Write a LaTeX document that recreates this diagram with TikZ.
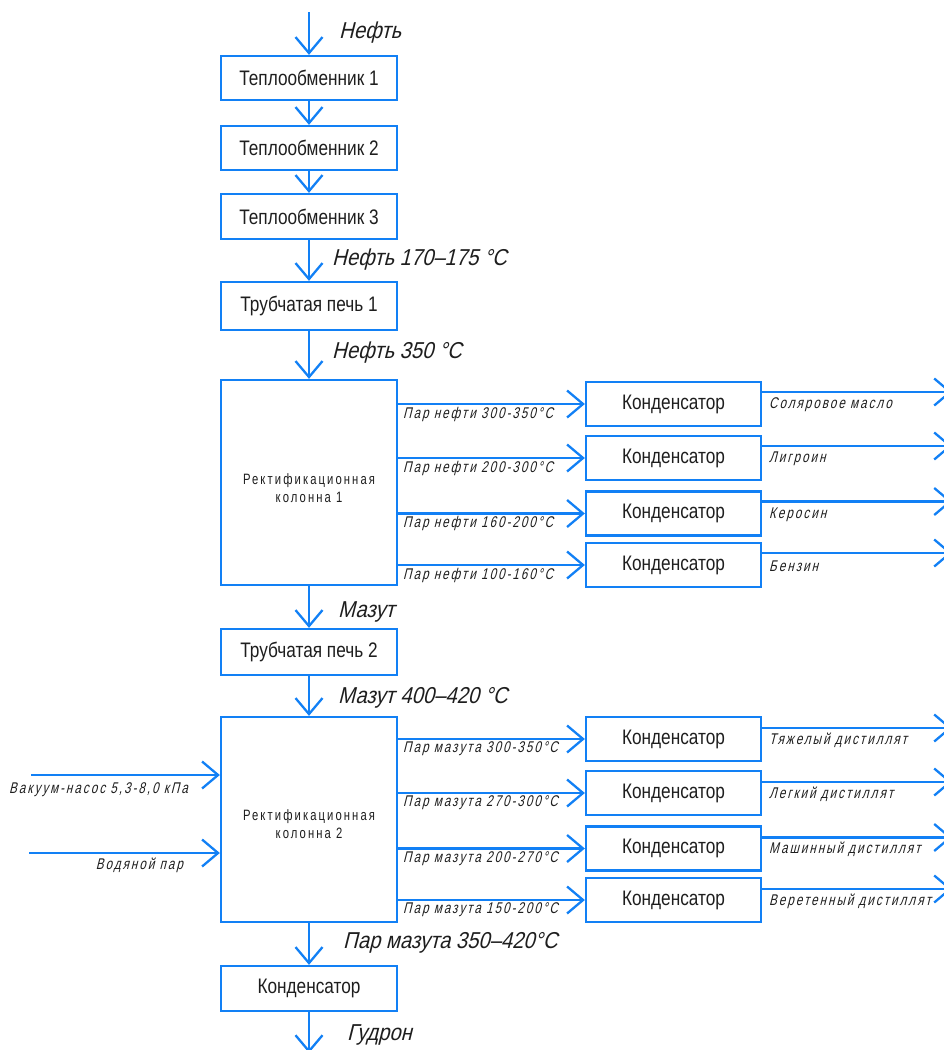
\documentclass[tikz,border=0pt]{standalone}
\usepackage{fontspec}
\setmainfont{Liberation Sans}
\usetikzlibrary{arrows.meta}
\newfontfamily\boxfont[FakeStretch=0.82]{Liberation Sans}
\newfontfamily\itfont[FakeStretch=0.88,FakeSlant=0.25]{Liberation Sans}
\newfontfamily\smallit[FakeStretch=0.75,FakeSlant=0.25,LetterSpace=13]{Liberation Sans}
\newfontfamily\smallup[FakeStretch=0.75,LetterSpace=14]{Liberation Sans}
\definecolor{lineblue}{RGB}{18,128,245}
\definecolor{txt}{RGB}{30,30,30}
\begin{document}
\begin{tikzpicture}[x=1pt,y=-1pt,
  box/.style={draw=lineblue,line width=2.3pt,fill=white,text=txt,inner sep=0pt,
    minimum width=176pt,font=\boxfont\fontsize{21}{24}\selectfont},
  cbox/.style={box,minimum width=175pt,minimum height=44pt},
  col/.style={box,minimum height=205pt},
  coltext/.style={text=txt,inner sep=0pt,align=center,font=\smallup\fontsize{15}{18}\selectfont},
  flow/.style={draw=lineblue,line width=2.3pt,-{Straight Barb[length=16pt,width=27pt,line width=2.3pt]}},
  biglab/.style={anchor=west,text=txt,inner sep=0pt,font=\itfont\fontsize{23}{26}\selectfont},
  smlab/.style={anchor=west,text=txt,inner sep=0pt,font=\smallit\fontsize{15.5}{17}\selectfont},
  smlabr/.style={smlab,anchor=east}]
\useasboundingbox (0,0) rectangle (944,1050);

% main chain
\coordinate (in) at (309,12);
\node[box,minimum height=44pt] (t1) at (309,78) {Теплообменник 1};
\node[box,minimum height=44pt] (t2) at (309,148) {Теплообменник 2};
\node[box,minimum height=45pt] (t3) at (309,216.5) {Теплообменник 3};
\node[box,minimum height=48pt] (p1) at (309,306) {Трубчатая печь 1};
\node[col] (k1) at (309,482.5) {};
\node[coltext] (k1t) at ([yshift=-6pt]k1.center) {Ректификационная\\колонна 1};
\node[box,minimum height=46pt] (p2) at (309,652) {Трубчатая печь 2};
\node[col] (k2) at (309,819.5) {};
\node[coltext] (k2t) at ([yshift=-5pt]k2.center) {Ректификационная\\колонна 2};
\node[box,minimum height=45pt] (cb) at (309,988.5) {Конденсатор};
\coordinate (out) at (309,1053);

\draw[flow] (in) -- (t1);
\draw[flow] (t1) -- (t2);
\draw[flow] (t2) -- (t3);
\draw[flow] (t3) -- (p1);
\draw[flow] (p1) -- (k1);
\draw[flow] (k1) -- (p2);
\draw[flow] (p2) -- (k2);
\draw[flow] (k2) -- (cb);
\draw[flow] (cb) -- (out);

\node[biglab] (l1) at (339,33) {Нефть};
\node[biglab] (l2) at (332,260) {Нефть 170–175 °С};
\node[biglab] (l3) at (332,353) {Нефть 350 °С};
\node[biglab] (l4) at (338,612) {Мазут};
\node[biglab] (l5) at (338,698) {Мазут 400–420 °С};
\node[biglab] (l6) at (343,943) {Пар мазута 350–420°С};
\node[biglab] (l7) at (347,1035) {Гудрон};

% column 1 condensers
\foreach \i/\y/\inl/\outl in {1/404/Пар нефти 300-350°С/Соляровое масло,
                           2/458/Пар нефти 200-300°С/Лигроин,
                           3/513.5/Пар нефти 160-200°С/Керосин,
                           4/565/Пар нефти 100-160°С/Бензин}{
  \node[cbox] (ca\i) at (673.5,\y) {Конденсатор};
  \draw[flow] (k1.east |- ca\i.west) -- (ca\i.west);
  \node[smlab] (ia\i) at (403,\y+10) {\inl};
  \coordinate (oa\i) at (952,\y-12);
  \draw[flow] (ca\i.east |- oa\i) -- (oa\i);
  \node[smlab] (ra\i) at (769,\y+1) {\outl};
}

% column 2 condensers
\foreach \i/\y/\inl/\outl in {1/739/Пар мазута 300-350°С/Тяжелый дистиллят,
                           2/793/Пар мазута 270-300°С/Легкий дистиллят,
                           3/848.5/Пар мазута 200-270°С/Машинный дистиллят,
                           4/900/Пар мазута 150-200°С/Веретенный дистиллят}{
  \node[cbox] (cc\i) at (673.5,\y) {Конденсатор};
  \draw[flow] (k2.east |- cc\i.west) -- (cc\i.west);
  \node[smlab] (ic\i) at (403,\y+10) {\inl};
  \coordinate (oc\i) at (952,\y-11);
  \draw[flow] (cc\i.east |- oc\i) -- (oc\i);
  \node[smlab] (rc\i) at (769,\y+1) {\outl};
}

% inputs to column 2
\coordinate (vac) at (31,775);
\coordinate (steam) at (29,853);
\draw[flow] (vac) -- (vac -| k2.west);
\draw[flow] (steam) -- (steam -| k2.west);
\node[smlabr] (vl) at (188,790) {Вакуум-насос 5,3-8,0 кПа};
\node[smlabr] (sl) at (183,865) {Водяной пар};
\end{tikzpicture}
\end{document}
